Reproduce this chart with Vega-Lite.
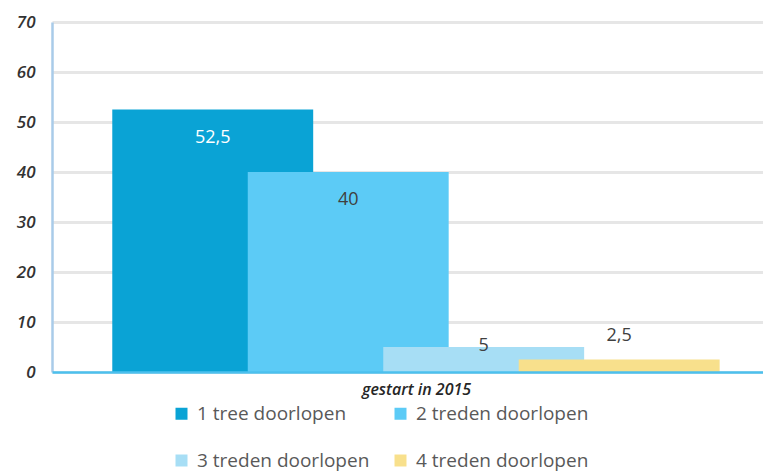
{
  "$schema": "https://vega.github.io/schema/vega-lite/v6.json",
  "width": 711,
  "height": 350,
  "autosize": {"type": "none"},
  "padding": {"left": 52, "top": 22, "right": 0, "bottom": 99},
  "config": {
    "view": {"stroke": null},
    "font": "Open Sans",
    "locale": {"number": {"decimal": ",", "thousands": ".", "grouping": [3], "currency": ["€", ""]}}
  },
  "data": {
    "values": [
      {"groep": "gestart in 2015", "reeks": "1 tree doorlopen", "percentage": 52.5},
      {"groep": "gestart in 2015", "reeks": "2 treden doorlopen", "percentage": 40},
      {"groep": "gestart in 2015", "reeks": "3 treden doorlopen", "percentage": 5},
      {"groep": "gestart in 2015", "reeks": "4 treden doorlopen", "percentage": 2.5}
    ]
  },
  "encoding": {
    "x": {
      "field": "reeks",
      "type": "nominal",
      "scale": {"paddingInner": 0, "paddingOuter": 0.624, "align": 0.55},
      "axis": {
        "title": "gestart in 2015",
        "labels": false,
        "ticks": false,
        "titleFontSize": 16,
        "titleFontStyle": "italic",
        "titleFontWeight": 600,
        "titleColor": "#262626",
        "titleX": 364,
        "titleY": 9,
        "titleBaseline": "top",
        "domainColor": "#4cc0ee",
        "domainWidth": 2.5,
        "zindex": 1
      }
    },
    "y": {
      "field": "percentage",
      "type": "quantitative",
      "scale": {"domain": [0, 70]},
      "axis": {
        "title": null,
        "values": [0, 10, 20, 30, 40, 50, 60, 70],
        "ticks": false,
        "labelFontSize": 17,
        "labelFontStyle": "italic",
        "labelFontWeight": 600,
        "labelColor": "#333333",
        "labelPadding": 17,
        "domainColor": "#a9cbe9",
        "domainWidth": 2.5,
        "gridColor": "#e6e6e6",
        "gridWidth": 3
      }
    }
  },
  "layer": [
    {
      "mark": {"type": "bar", "width": {"band": 1.483}},
      "encoding": {
        "color": {
          "field": "reeks",
          "type": "nominal",
          "scale": {
            "domain": ["1 tree doorlopen", "2 treden doorlopen", "3 treden doorlopen", "4 treden doorlopen"],
            "range": ["#0aa3d5", "#5ccbf6", "#a7def5", "#f8e08c"]
          },
          "legend": {
            "title": null,
            "orient": "none",
            "legendX": 120,
            "legendY": 382,
            "columns": 2,
            "direction": "horizontal",
            "symbolType": "square",
            "symbolSize": 144,
            "symbolStrokeWidth": 0,
            "labelFontSize": 19,
            "labelLimit": 400,
            "labelColor": "#595959",
            "labelOffset": 6,
            "columnPadding": 21,
            "rowPadding": 27
          }
        }
      }
    },
    {
      "transform": [{"filter": "datum.percentage >= 20"}],
      "mark": {"type": "text", "fontSize": 18, "baseline": "middle", "dy": 28},
      "encoding": {
        "text": {"field": "percentage", "type": "quantitative", "format": ".1~f"},
        "color": {
          "condition": {"test": "datum.reeks === '1 tree doorlopen'", "value": "#ffffff"},
          "value": "#404040"
        }
      }
    },
    {
      "transform": [{"filter": "datum.reeks === '3 treden doorlopen'"}],
      "mark": {"type": "text", "fontSize": 18, "baseline": "middle", "dy": -1, "color": "#404040"},
      "encoding": {
        "text": {"field": "percentage", "type": "quantitative", "format": ".1~f"}
      }
    },
    {
      "transform": [{"filter": "datum.reeks === '4 treden doorlopen'"}],
      "mark": {"type": "text", "fontSize": 18, "baseline": "middle", "dy": -24, "color": "#404040"},
      "encoding": {
        "text": {"field": "percentage", "type": "quantitative", "format": ".1~f"}
      }
    }
  ]
}
